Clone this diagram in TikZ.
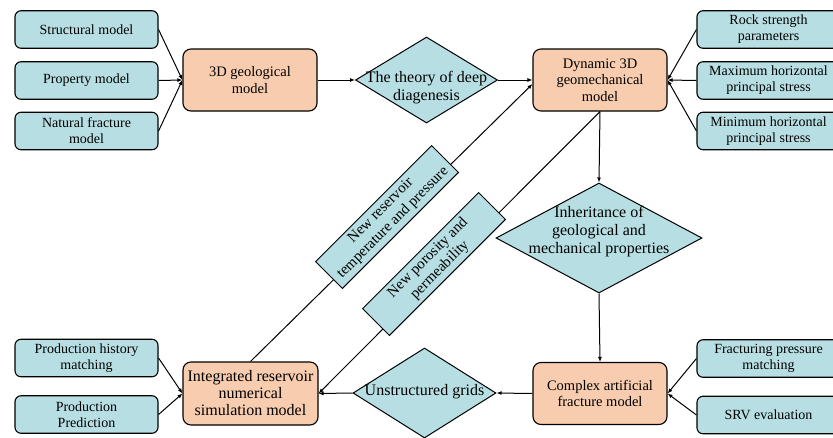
\documentclass[tikz,border=0pt]{standalone}
\usepackage{fontspec}
\setmainfont{Liberation Serif}
\usetikzlibrary{shapes.geometric,arrows.meta}
\definecolor{tealbox}{RGB}{183,223,227}
\definecolor{orangebox}{RGB}{248,204,174}
\begin{document}
\begin{tikzpicture}[x=1pt,y=-1pt,
 inbox/.style={draw,line width=1.1pt,fill=tealbox,rounded corners=6pt,minimum width=143pt,minimum height=37.5pt,inner sep=0pt,align=center,font=\fontsize{14}{16}\selectfont},
 mainbox/.style={draw,line width=1.1pt,fill=orangebox,rounded corners=8pt,minimum width=134pt,minimum height=62pt,inner sep=0pt,align=center,font=\fontsize{14.5}{16.7}\selectfont},
 dia/.style={draw,line width=1pt,fill=tealbox,diamond,inner sep=0pt},
 diatext/.style={align=center,font=\fontsize{16}{18}\selectfont,inner sep=0pt},
 tagbox/.style={draw,line width=0.9pt,fill=tealbox,rotate=45,minimum width=164pt,minimum height=38pt,inner sep=0pt,align=center,font=\fontsize{15}{17}\selectfont},
 arr/.style={-{Latex[length=5pt,width=4pt]},line width=1pt},
 ln/.style={line width=1pt}]
\useasboundingbox (0,0) rectangle (833,437);
\clip (0,0) rectangle (833,437);
% left inputs
\node[inbox] (s1) at (86.5,29.5) {Structural model};
\node[inbox] (s2) at (86.5,80.5) {Property model};
\node[inbox] (s3) at (86.5,131) {Natural fracture\\model};
\node[mainbox] (geo) at (250,80) {3D geological\\model};
% diamond 1
\node[dia,minimum width=142pt,minimum height=86pt] (d1) at (426.5,80) {};
\node[diatext] (d1t) at (426.5,88) {The theory of deep\\diagenesis};
\node[mainbox] (dyn) at (600,80) {Dynamic 3D\\geomechanical\\model};
% right inputs
\node[inbox] (r1) at (768.5,29.5) {Rock strength\\parameters};
\node[inbox] (r2) at (768.5,80.5) {Maximum horizontal\\principal stress};
\node[inbox] (r3) at (768.5,131) {Minimum horizontal\\principal stress};
% inheritance
\node[dia,minimum width=206pt,minimum height=110pt] (inh) at (599,238) {};
\node[diatext] (inht) at (599,232) {Inheritance of\\geological and\\mechanical properties};
\node[mainbox] (caf) at (600,393.5) {Complex artificial\\fracture model};
\node[inbox] (r4) at (768.5,358.5) {Fracturing pressure\\matching};
\node[inbox] (r5) at (768.5,415) {SRV evaluation};
% unstructured
\node[dia,minimum width=143pt,minimum height=90pt] (ug) at (424.5,393) {};
\node[diatext] (ugt) at (424.5,392) {Unstructured grids};
\node[mainbox,minimum width=135pt,minimum height=63pt,font=\fontsize{16}{17}\selectfont] (int) at (250.5,393.5) {Integrated reservoir\\numerical\\simulation model};
\node[inbox] (p1) at (86.5,358) {Production history\\matching};
\node[inbox] (p2) at (86.5,414.5) {Production\\Prediction};
% connectors
\draw[arr] (s1.east) -- (geo.west);
\draw[arr] (s2.east) -- (geo.west);
\draw[arr] (s3.east) -- (geo.west);
\draw[arr] (geo.east) -- (d1.west);
\draw[arr] (d1.east) -- (dyn.west);
\draw[arr] (r1.west) -- (dyn.east);
\draw[arr] (r2.west) -- (dyn.east);
\draw[arr] (r3.west) -- (dyn.east);
\draw[arr] (dyn.south) -- (inh.north);
\draw[arr] (inh.south) -- (caf.north);
\draw[arr] (r4.west) -- (caf.east);
\draw[arr] (r5.west) -- (caf.east);
\draw[arr] (caf.west) -- (ug.east);
\draw[arr] (ug.west) -- (int.east);
\draw[arr] (p1.east) -- (int.west);
\draw[arr] (p2.east) -- (int.west);
\draw[arr] (int.north) -- ([yshift=-4pt]dyn.west);
\draw[arr] (dyn.south) -- (int.east);
% tag boxes on diagonals
\node[tagbox] (t1) at (387,217) {New reservoir\\temperature and pressure};
\node[tagbox] (t2) at (434,264) {New porosity and\\permeability};
\end{tikzpicture}
\end{document}
